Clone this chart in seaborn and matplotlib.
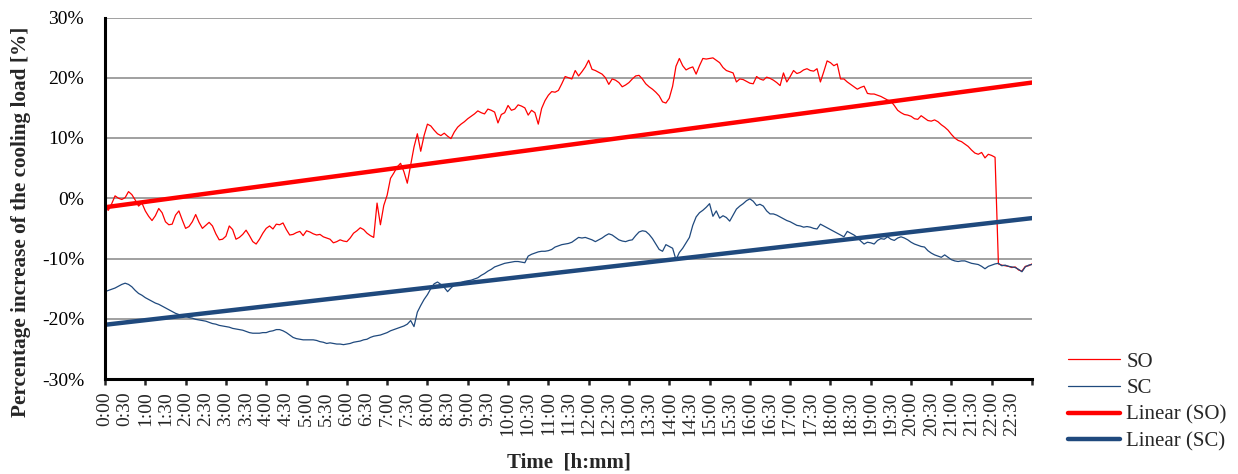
import numpy as np
import matplotlib
matplotlib.use("Agg")
import matplotlib.pyplot as plt
from matplotlib.ticker import MultipleLocator, FuncFormatter, FixedLocator
import seaborn as sns

# ---------------- data (percent, one sample every 5 minutes, 0:00 .. 23:00) ----------------
so_values = [
    -1.6, -2.0, -0.9, 0.4, 0.0, -0.2, 0.1, 1.1, 0.6, -0.3, -1.3, -0.8,
    -2.1, -3.0, -3.7, -2.9, -1.7, -2.4, -3.9, -4.4, -4.3, -2.8, -2.1, -3.6,
    -5.0, -4.7, -3.9, -2.7, -4.0, -5.0, -4.5, -4.0, -4.6, -5.9, -6.9, -6.8,
    -6.3, -4.6, -5.2, -6.8, -6.5, -6.0, -5.3, -6.2, -7.2, -7.6, -6.8, -5.8,
    -5.0, -4.6, -5.1, -4.3, -4.4, -4.1, -5.2, -6.1, -6.0, -5.7, -5.5, -6.2,
    -5.4, -5.6, -5.9, -6.1, -6.0, -6.4, -6.6, -6.8, -7.4, -7.2, -6.9, -7.1,
    -7.2, -6.6, -5.8, -5.4, -4.9, -5.2, -5.8, -6.2, -6.5, -0.8, -4.4, -1.2,
    0.5, 3.3, 4.2, 5.2, 5.8, 4.4, 2.5, 5.5, 8.5, 10.7, 7.8, 10.4,
    12.3, 12.0, 11.3, 10.7, 10.4, 10.8, 10.3, 9.9, 11.0, 11.8, 12.3, 12.7,
    13.2, 13.6, 14.0, 14.5, 14.2, 14.0, 14.8, 14.6, 14.3, 12.5, 13.9, 14.2,
    15.4, 14.6, 14.8, 15.5, 15.3, 15.0, 13.8, 14.6, 14.2, 12.3, 14.9, 16.2,
    17.1, 17.7, 17.6, 17.9, 19.0, 20.2, 20.0, 19.8, 21.2, 20.3, 21.0, 21.8,
    22.9, 21.4, 21.2, 20.9, 20.6, 20.0, 18.9, 19.8, 19.6, 19.2, 18.5, 18.8,
    19.2, 19.8, 20.3, 20.4, 19.8, 19.0, 18.5, 18.1, 17.6, 17.0, 16.0, 15.8,
    16.6, 18.6, 21.9, 23.2, 22.0, 21.3, 21.6, 21.8, 20.6, 22.0, 23.2, 23.1,
    23.2, 23.3, 22.9, 22.5, 21.7, 21.2, 21.0, 20.8, 19.3, 19.8, 19.7, 19.4,
    19.1, 19.0, 20.2, 19.8, 19.6, 20.1, 19.9, 19.6, 19.2, 18.7, 20.8, 19.3,
    20.2, 21.2, 20.7, 20.9, 21.3, 21.5, 21.2, 21.1, 21.5, 19.3, 21.0, 22.8,
    22.5, 22.0, 22.3, 19.8, 19.8, 19.3, 18.9, 18.5, 18.1, 18.4, 18.6, 17.4,
    17.3, 17.3, 17.1, 16.9, 16.6, 16.3, 16.1, 15.4, 14.6, 14.2, 13.9, 13.8,
    13.6, 13.2, 13.1, 13.7, 13.3, 12.9, 12.8, 13.0, 12.7, 12.2, 11.8, 11.3,
    10.6, 10.0, 9.6, 9.4, 9.0, 8.6, 8.0, 7.5, 7.3, 7.6, 6.7, 7.3,
    7.1, 6.8, -10.9, -11.1, -11.2, -11.3, -11.5, -11.4, -11.9, -12.1, -11.3, -11.2,
    -10.9,
]

sc_values = [
    -15.5, -15.3, -15.1, -14.9, -14.6, -14.3, -14.1, -14.3, -14.7, -15.3, -15.8, -16.1,
    -16.5, -16.8, -17.1, -17.4, -17.6, -17.9, -18.2, -18.5, -18.8, -19.1, -19.3, -19.5,
    -19.6, -19.8, -19.9, -20.1, -20.2, -20.3, -20.4, -20.6, -20.8, -20.9, -21.1, -21.2,
    -21.3, -21.4, -21.6, -21.7, -21.8, -21.9, -22.1, -22.3, -22.4, -22.4, -22.4, -22.3,
    -22.3, -22.1, -22.0, -21.8, -21.8, -22.0, -22.3, -22.7, -23.1, -23.3, -23.4, -23.5,
    -23.5, -23.5, -23.5, -23.6, -23.8, -23.9, -24.1, -24.0, -24.1, -24.2, -24.2, -24.3,
    -24.2, -24.1, -23.9, -23.8, -23.7, -23.5, -23.4, -23.1, -22.9, -22.8, -22.7, -22.5,
    -22.3, -22.0, -21.8, -21.6, -21.4, -21.2, -20.9, -20.3, -21.3, -18.9, -17.8, -16.8,
    -16.0, -15.0, -14.2, -13.9, -14.3, -14.8, -15.5, -14.9, -14.4, -14.2, -14.0, -13.8,
    -13.7, -13.6, -13.4, -13.2, -12.8, -12.5, -12.1, -11.8, -11.4, -11.2, -11.0, -10.8,
    -10.7, -10.6, -10.5, -10.5, -10.6, -10.7, -9.6, -9.3, -9.1, -8.9, -8.8, -8.8,
    -8.7, -8.5, -8.1, -7.9, -7.7, -7.6, -7.5, -7.3, -6.9, -6.5, -6.6, -6.5,
    -6.7, -6.9, -7.2, -6.9, -6.6, -6.2, -5.9, -6.1, -6.5, -6.9, -7.1, -7.2,
    -7.0, -6.9, -6.2, -5.6, -5.4, -5.5, -6.0, -6.7, -7.6, -8.5, -8.8, -7.7,
    -8.0, -8.3, -10.2, -9.0, -8.3, -7.4, -6.5, -4.5, -3.1, -2.4, -2.0, -1.5,
    -0.9, -3.0, -2.1, -3.3, -2.9, -3.2, -3.8, -2.8, -1.8, -1.3, -0.9, -0.4,
    -0.1, -0.5, -1.2, -1.0, -1.3, -2.1, -2.6, -2.6, -2.8, -3.1, -3.4, -3.7,
    -3.9, -4.2, -4.5, -4.6, -4.8, -4.7, -4.8, -5.0, -5.1, -4.3, -4.6, -4.9,
    -5.2, -5.5, -5.8, -6.1, -6.4, -5.5, -5.8, -6.1, -6.5, -7.1, -7.6, -7.3,
    -7.4, -7.6, -7.0, -6.7, -6.8, -6.4, -6.8, -7.0, -6.6, -6.4, -6.6, -6.9,
    -7.3, -7.6, -7.8, -8.0, -8.1, -8.7, -9.1, -9.4, -9.6, -9.8, -9.4, -9.8,
    -10.2, -10.4, -10.5, -10.4, -10.4, -10.6, -10.8, -10.9, -11.0, -11.3, -11.7, -11.3,
    -11.1, -10.9, -10.8, -11.2, -11.1, -11.3, -11.4, -11.5, -11.8, -12.2, -11.4, -11.1,
    -11.0,
]

sample_step_min = 5
time_min = np.arange(len(so_values)) * sample_step_min

# linear trend lines (values at start and end of the day)
trend_time_min = [0, 1380]
trend_so = [-1.5, 19.2]
trend_sc = [-21.0, -3.3]

x_tick_labels = [
    "0:00", "0:30", "1:00", "1:30", "2:00", "2:30", "3:00", "3:30", "4:00", "4:30",
    "5:00", "5:30", "6:00", "6:30", "7:00", "7:30", "8:00", "8:30", "9:00", "9:30",
    "10:00", "10:30", "11:00", "11:30", "12:00", "12:30", "13:00", "13:30", "14:00", "14:30",
    "15:00", "15:30", "16:00", "16:30", "17:00", "17:30", "18:00", "18:30", "19:00", "19:30",
    "20:00", "20:30", "21:00", "21:30", "22:00", "22:30",
]
y_ticks = [-30, -20, -10, 0, 10, 20, 30]

assert len(so_values) == len(sc_values) == 277

# ---------------- style ----------------
sns.set_style("white")
plt.rcParams["font.family"] = ["Liberation Serif", "DejaVu Serif"]
plt.rcParams["axes.unicode_minus"] = False
FS = 14

RED = "#FF0000"
BLUE = "#1F497D"

fig = plt.figure(figsize=(12.38, 4.74), dpi=100)
AX_H = (379 - 17.5)
ax = fig.add_axes([105 / 1238, 1 - 379 / 474, (1032 - 105) / 1238, AX_H / 474])

sns.lineplot(x=time_min, y=so_values, ax=ax, color=RED, lw=0.9, label="SO", zorder=3)
sns.lineplot(x=time_min, y=sc_values, ax=ax, color=BLUE, lw=0.9, label="SC", zorder=3)
sns.lineplot(x=trend_time_min, y=trend_so, ax=ax, color=RED, lw=3.2, label="Linear (SO)", zorder=4)
sns.lineplot(x=trend_time_min, y=trend_sc, ax=ax, color=BLUE, lw=3.2, label="Linear (SC)", zorder=4)

ax.set_xlim(0, 1380)
ax.set_ylim(-30, 30)

# y axis
ax.yaxis.set_major_locator(FixedLocator(y_ticks))
ax.yaxis.set_minor_locator(MultipleLocator(2))
ax.yaxis.set_major_formatter(FuncFormatter(lambda v, p: f"{v:.0f}%"))
ax.tick_params(axis="y", which="major", direction="out", length=5, width=1.8,
               labelsize=FS, pad=10, colors="black")
ax.tick_params(axis="y", which="minor", direction="out", length=3.5, width=1.8)

# x axis: labels every 30 min, tick marks every hour
ax.set_xticks(np.arange(len(x_tick_labels)) * 30)
ax.set_xticklabels(x_tick_labels, rotation=90, ha="center", va="top")
ax.xaxis.set_minor_locator(FixedLocator(np.arange(0, 1381, 60)))
ax.xaxis.remove_overlapping_locs = False
ax.tick_params(axis="x", which="major", length=0, labelsize=FS, pad=9)
ax.tick_params(axis="x", which="minor", direction="out", length=4.5, width=1.8, bottom=True)

ax.yaxis.grid(True, which="major", color="#A0A0A0", lw=1.4)
ax.xaxis.grid(False)
ax.set_axisbelow(True)

for s in ["top", "right"]:
    ax.spines[s].set_visible(False)
for s in ["left", "bottom"]:
    ax.spines[s].set_color("black")
    ax.spines[s].set_linewidth(2.2)
    ax.spines[s].set_zorder(5)

ax.set_ylabel("Percentage increase of the cooling load [%]", fontsize=15.3, fontweight="bold")
ax.set_xlabel("Time  [h:mm]", fontsize=15, fontweight="bold")
ax.yaxis.set_label_coords(-(105 - 31) / 927, 0.5 - 24 / AX_H)
ax.xaxis.set_label_coords(0.5, -(452 - 379) / AX_H)

handles, labels = ax.get_legend_handles_labels()
ax.legend(handles, labels, loc="upper left", bbox_to_anchor=(1068 / 1238, 1 - 352 / 474),
          bbox_transform=fig.transFigure, frameon=False, fontsize=15,
          handlelength=2.5, handletextpad=0.3, labelspacing=0.34, borderpad=0, borderaxespad=0)

fig.savefig("out.png", dpi=100)
